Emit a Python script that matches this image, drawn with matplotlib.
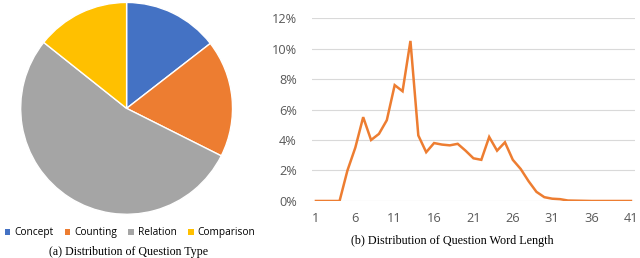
import matplotlib
matplotlib.use("Agg")
import matplotlib.pyplot as plt
from matplotlib.patches import Patch

# Pie data
types = ["Concept", "Counting", "Relation", "Comparison"]
type_share = [14.5, 17.9, 53.3, 14.3]
type_colors = ["#4472C4", "#ED7D31", "#A5A5A5", "#FFC000"]

# Line data
word_len = list(range(1, 42))
len_pct = [0, 0, 0, 0, 2.0, 3.5, 5.5, 4.0, 4.4, 5.3,
           7.6, 7.2, 10.5, 4.3, 3.2, 3.8, 3.7, 3.65, 3.75, 3.3,
           2.8, 2.7, 4.2, 3.3, 3.85, 2.7, 2.1, 1.3, 0.6, 0.25,
           0.15, 0.12, 0.03, 0.02, 0.01, 0, 0, 0, 0, 0, 0]
x_ticks = [1, 6, 11, 16, 21, 26, 31, 36, 41]
y_ticks = [0, 2, 4, 6, 8, 10, 12]

fig = plt.figure(figsize=(6.4, 2.58), dpi=100)

# Pie
axp = fig.add_axes([0.0323, 0.169, 0.331, 0.822])
axp.pie(type_share, colors=type_colors, startangle=90, counterclock=False,
        wedgeprops=dict(edgecolor="white", linewidth=1.0))
axp.set_aspect("equal")
axp.set_xlim(-1.0, 1.0)
axp.set_ylim(-1.0, 1.0)
handles = [Patch(facecolor=c, edgecolor="none") for c in type_colors]
fig.legend(handles, types, loc="center", bbox_to_anchor=(0.203, 0.098), ncol=4,
           frameon=False, handlelength=0.55, handleheight=0.55,
           handletextpad=0.35, columnspacing=1.15,
           prop={"family": "Open Sans", "size": 7.3})
fig.text(0.2015, 0.023, "(a) Distribution of Question Type", ha="center", va="center",
         family="Liberation Serif", fontsize=8.6)

# Line chart
axl = fig.add_axes([0.4875, 0.221, 0.5045, 0.709])
axl.plot(word_len, len_pct, color="#ED7D31", linewidth=1.8, solid_joinstyle="miter", zorder=3)
axl.set_xlim(0.5, 41.5)
axl.set_ylim(0, 12)
axl.set_yticks(y_ticks)
axl.set_yticklabels([f"{v}%" for v in y_ticks])
axl.set_xticks(x_ticks)
axl.set_xticklabels([str(v) for v in x_ticks])
axl.grid(axis="y", color="#D9D9D9", linewidth=0.8)
axl.set_axisbelow(True)
for s in axl.spines.values():
    s.set_visible(False)
axl.tick_params(length=0, labelsize=9.2, labelcolor="#595959")
axl.tick_params(axis="y", pad=11)
axl.tick_params(axis="x", pad=8)
for lab in axl.get_xticklabels() + axl.get_yticklabels():
    lab.set_family("Open Sans")
fig.text(0.706, 0.064, "(b) Distribution of Question Word Length", ha="center", va="center",
         family="Liberation Serif", fontsize=8.7)

fig.savefig("out.png", dpi=100)
